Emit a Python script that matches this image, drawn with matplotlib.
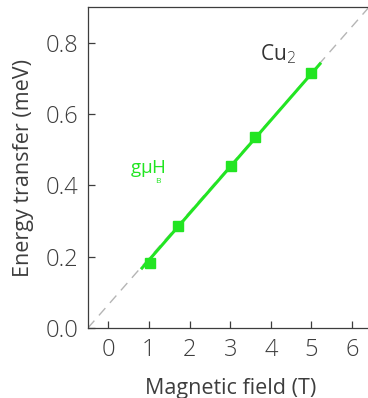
import matplotlib
matplotlib.use("Agg")
import matplotlib.pyplot as plt

# measured points (Cu2 excitation vs field)
field = [1.02, 1.72, 3.01, 3.61, 5.0]
energy = [0.182, 0.285, 0.453, 0.535, 0.715]

# green fit segment and grey dashed extension (end points)
fit_x = [0.83, 5.21]
fit_y = [0.168, 0.741]
ext_x = [-0.5, 6.5]
ext_y = [0.0, 0.911]

xticks = [0, 1, 2, 3, 4, 5, 6]
yticks = [0.0, 0.2, 0.4, 0.6, 0.8]

GREEN = "#22e522"
DARK = "#3d3d3d"

plt.rcParams["font.family"] = ["Open Sans", "DejaVu Sans"]
plt.rcParams["font.weight"] = "light"

fig = plt.figure(figsize=(3.68, 3.98), dpi=100)
ax = fig.add_axes([0.239, 0.176, 0.773, 0.806])

ax.plot(ext_x, ext_y, color="#b5b5b5", lw=1.0, ls=(0, (7, 5)), zorder=1)
ax.plot(fit_x, fit_y, color=GREEN, lw=2.2, zorder=2)
ax.plot(field, energy, "s", color=GREEN, ms=7.5, zorder=3)

ax.set_xlim(-0.5, 6.5)
ax.set_ylim(0, 0.9)
ax.set_xticks(xticks)
ax.set_xticklabels([str(t) for t in xticks])
ax.set_yticks(yticks)
ax.set_yticklabels([f"{t:.1f}" for t in yticks])

ax.tick_params(direction="in", length=5, width=0.9, colors=DARK,
               labelsize=17, pad=7)
for s in ax.spines.values():
    s.set_color(DARK)
    s.set_linewidth(0.9)

ax.set_xlabel("Magnetic field (T)", fontsize=15.5, color=DARK, labelpad=12)
ax.set_ylabel("Energy transfer (meV)", fontsize=15.5, color=DARK, labelpad=8)

ax.text(4.18, 0.767, "Cu$_2$", fontsize=15, color="#333333", ha="center",
        va="center", fontweight="normal")
ax.text(0.98, 0.446, r"g$\mathregular{\mu}$H", fontsize=13.5, color=GREEN,
        ha="center", va="center", fontweight="normal")
ax.text(1.22, 0.41, "B", fontsize=6, color=GREEN, ha="center", va="center",
        fontweight="normal")

fig.savefig("out.png", dpi=100)
